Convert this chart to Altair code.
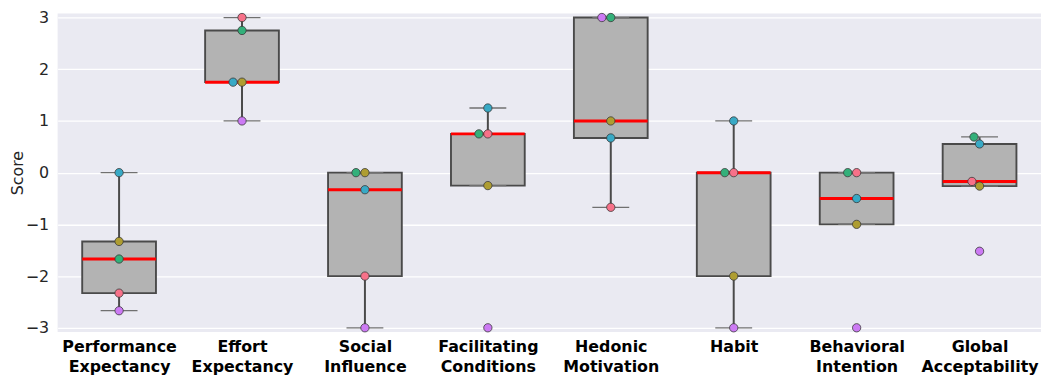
import altair as alt
import numpy as np
import pandas as pd

# ---------------- data ----------------
categories = [
    ["Performance", "Expectancy"],
    ["Effort", "Expectancy"],
    ["Social", "Influence"],
    ["Facilitating", "Conditions"],
    ["Hedonic", "Motivation"],
    ["Habit"],
    ["Behavioral", "Intention"],
    ["Global", "Acceptability"],
]
participants = ["P1", "P2", "P3", "P4", "P5"]
participant_colors = ["#f77189", "#ae9d31", "#33b07a", "#38a9c5", "#cc7af4"]

# scores per category, in participant order (P1..P5)
performance_expectancy = [-2.33, -1.33, -1.67, 0.0, -2.67]
effort_expectancy = [3.0, 1.75, 2.75, 1.75, 1.0]
social_influence = [-2.0, 0.0, 0.0, -0.33, -3.0]
facilitating_conditions = [0.75, -0.25, 0.75, 1.25, -3.0]
hedonic_motivation = [-0.67, 1.0, 3.0, 0.67, 3.0]
habit = [0.0, -2.0, 0.0, 1.0, -3.0]
behavioral_intention = [0.0, -1.0, 0.0, -0.5, -3.0]
global_acceptability = [-0.17, -0.26, 0.69, 0.555, -1.52]

scores = [
    performance_expectancy, effort_expectancy, social_influence,
    facilitating_conditions, hedonic_motivation, habit,
    behavioral_intention, global_acceptability,
]

y_ticks = [-3, -2, -1, 0, 1, 2, 3]

# ---------------- layout ----------------
W, H = 991, 321
Y_DOM = [-3.08, 3.08]
X_DOM = [-0.5, len(categories) - 0.5]
PPU_X = W / (X_DOM[1] - X_DOM[0])
PPU_Y = H / (Y_DOM[1] - Y_DOM[0])
DIAM = 9.0
BOX_HALF = 0.3
CAP_HALF = 0.15


def swarm_offsets(vals):
    order = sorted(range(len(vals)), key=lambda i: (vals[i], i))
    placed = []
    offs = [0.0] * len(vals)
    for i in order:
        y = vals[i] * PPU_Y
        cands = [0.0]
        for px, py in placed:
            dy = abs(y - py)
            if dy < DIAM:
                dx = float(np.sqrt(DIAM * DIAM - dy * dy))
                cands += [px - dx, px + dx]
        cands = sorted(set(cands), key=lambda c: (abs(round(c, 6)), c))
        chosen = 0.0
        for c in cands:
            if all((c - px) ** 2 + (y - py) ** 2 >= DIAM * DIAM - 1e-6 for px, py in placed):
                chosen = c
                break
        placed.append((chosen, y))
        offs[i] = chosen / PPU_X
    return offs


point_rows, box_rows = [], []
for ci, vals in enumerate(scores):
    offs = swarm_offsets(vals)
    for pi, v in enumerate(vals):
        point_rows.append({"idx": ci, "participant": participants[pi], "score": v,
                           "px": ci + offs[pi]})
    arr = np.array(vals)
    q1, med, q3 = np.percentile(arr, [25, 50, 75])
    iqr = q3 - q1
    lo = arr[arr >= q1 - 1.5 * iqr].min()
    hi = arr[arr <= q3 + 1.5 * iqr].max()
    box_rows.append({"idx": ci, "q1": q1, "med": med, "q3": q3, "lo": lo, "hi": hi,
                     "xl": ci - BOX_HALF, "xr": ci + BOX_HALF,
                     "cl": ci - CAP_HALF, "cr": ci + CAP_HALF})

points = pd.DataFrame(point_rows)
boxes = pd.DataFrame(box_rows)

label_expr = "[" + ",".join(
    "[" + ",".join("'" + s + "'" for s in c) + "]" for c in categories
) + "][datum.value]"

xscale = alt.Scale(domain=X_DOM, nice=False, zero=False)
yscale = alt.Scale(domain=Y_DOM, nice=False, zero=False)

xaxis = alt.Axis(values=list(range(len(categories))), labelExpr=label_expr, title=None,
                 grid=False, domain=False, ticks=False, labelFontSize=16,
                 labelFontWeight="bold", labelPadding=7, labelLineHeight=20,
                 labelBaseline="top", labelColor="#000000", labelOverlap=False,
                 labelFlush=False, labelBound=False)
yaxis = alt.Axis(values=y_ticks, title="Score", grid=True, gridColor="#ffffff",
                 gridWidth=1.3, domain=False, ticks=False, labelFontSize=16,
                 labelPadding=9, labelColor="#262626", titleFontSize=16,
                 titleFontWeight="normal", titleColor="#262626", titlePadding=3,
                 titleBaseline="alphabetic")


def X(field):
    return alt.X(field, scale=xscale, axis=xaxis, title=None)


def Y(field):
    return alt.Y(field, scale=yscale, axis=yaxis, title="Score")


base = alt.Chart(boxes)

box = base.mark_rect(fill="#b3b3b3", stroke="#4a4a4a", strokeWidth=1.9).encode(
    x=X("xl:Q"), x2="xr:Q", y=Y("q1:Q"), y2="q3:Q")
whisk_hi = base.mark_rule(color="#4a4a4a", strokeWidth=2).encode(
    x=X("idx:Q"), y=Y("q3:Q"), y2="hi:Q")
whisk_lo = base.mark_rule(color="#4a4a4a", strokeWidth=2).encode(
    x=X("idx:Q"), y=Y("q1:Q"), y2="lo:Q")
cap_hi = base.mark_rule(color="#707070", strokeWidth=1.3).encode(
    x=X("cl:Q"), x2="cr:Q", y=Y("hi:Q"))
cap_lo = base.mark_rule(color="#707070", strokeWidth=1.3).encode(
    x=X("cl:Q"), x2="cr:Q", y=Y("lo:Q"))
median = base.mark_rule(color="#ff0000", strokeWidth=3).encode(
    x=X("xl:Q"), x2="xr:Q", y=Y("med:Q"))

dots = alt.Chart(points).mark_circle(size=70, opacity=1, stroke="#3a3a3a",
                                     strokeWidth=0.8).encode(
    x=X("px:Q"), y=Y("score:Q"),
    color=alt.Color("participant:N",
                    scale=alt.Scale(domain=participants, range=participant_colors),
                    legend=None))

chart = alt.layer(box, whisk_hi, whisk_lo, cap_hi, cap_lo, median, dots).properties(
    width=W, height=H,
    autosize=alt.AutoSizeParams(type="none"),
    padding={"left": 50, "top": 4, "right": 3, "bottom": 45},
).configure(font="DejaVu Sans", background="#ffffff").configure_view(
    fill="#EAEAF2", stroke=None)

chart.save("out.html", embed_options={"renderer": "svg", "actions": False})
